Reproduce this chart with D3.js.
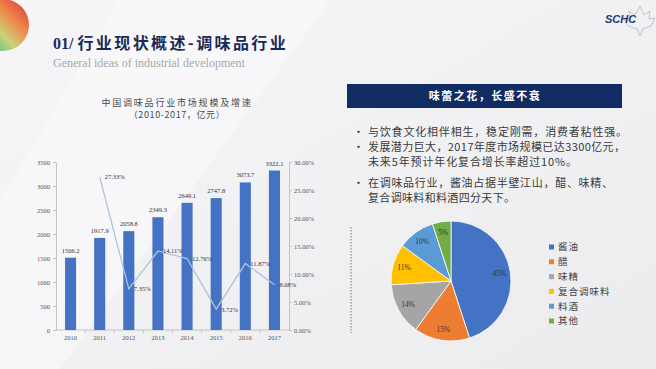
<!DOCTYPE html>
<html>
<head>
<meta charset="utf-8">
<script src="https://cdn.jsdelivr.net/npm/d3@7"></script>
<style>
  body { margin: 0; background: #fff; }
  svg { display: block; }
</style>
</head>
<body>
<svg width="656" height="369"></svg>
<script>
const years = ["2010", "2011", "2012", "2013", "2014", "2015", "2016", "2017"];
const marketSize = [1506.2, 1917.9, 2058.8, 2349.3, 2649.1, 2747.8, 3073.7, 3322.1];
const growthRate = [null, 27.33, 7.35, 14.11, 12.76, 3.72, 11.87, 8.08];
const sizeTicks = [0, 500, 1000, 1500, 2000, 2500, 3000, 3500];
const rateTicks = [0, 5, 10, 15, 20, 25, 30];

const shareNames = ["酱油", "醋", "味精", "复合调味料", "料酒", "其他"];
const shareValues = [45, 15, 14, 11, 10, 5];
const shareColors = ["#4472c4", "#ed7d31", "#a5a5a5", "#ffc000", "#5b9bd5", "#70ad47"];

const bullets = [
  ["与饮食文化相伴相生，稳定刚需，消费者粘性强。"],
  ["发展潜力巨大，2017年度市场规模已达3300亿元，", "未来5年预计年化复合增长率超过10%。"],
  ["在调味品行业，酱油占据半壁江山，醋、味精、", "复合调味料和料酒四分天下。"]
];
const bulletWidths = [[259], [257, 209], [245, 147]];

const cjk = "'Noto Sans CJK SC', 'Noto Sans', sans-serif";
const serif = "'Liberation Serif', 'DejaVu Serif', serif";

const svg = d3.select("svg");

// background
const defs = svg.append("defs");
const bg = defs.append("linearGradient").attr("id", "bg")
  .attr("x1", 0).attr("y1", 0).attr("x2", 1).attr("y2", 1);
bg.append("stop").attr("offset", 0).attr("stop-color", "#f6f6f8");
bg.append("stop").attr("offset", 0.5).attr("stop-color", "#f1f1f3");
bg.append("stop").attr("offset", 1).attr("stop-color", "#ececef");
svg.append("rect").attr("width", 656).attr("height", 369).attr("fill", "url(#bg)");
svg.append("path").attr("d", "M120,0 L330,0 L60,369 L0,369 L0,200 Z")
  .attr("fill", "#fafafb").attr("opacity", 0.6);

// colourful round logo
const ball = defs.append("linearGradient").attr("id", "ball")
  .attr("x1", 1).attr("y1", 0).attr("x2", 0).attr("y2", 1);
ball.append("stop").attr("offset", 0).attr("stop-color", "#d8313a");
ball.append("stop").attr("offset", 0.35).attr("stop-color", "#ef8a4a");
ball.append("stop").attr("offset", 0.6).attr("stop-color", "#c9d27a");
ball.append("stop").attr("offset", 1).attr("stop-color", "#1fae9a");
svg.append("circle").attr("cx", 3).attr("cy", 25).attr("r", 26).attr("fill", "url(#ball)");

// SCHC logo
svg.append("path")
  .attr("d", "M628,26 L624,18 L630,19 L629,11 L635,15 L640,6 L644,15 L650,11 L649,19 L655,18 L651,26 L643,29 L640,36 L637,29 Z")
  .attr("fill", "none").attr("stroke", "#b8b8be").attr("stroke-width", 0.8);
svg.append("text").attr("x", 605).attr("y", 23)
  .style("font-family", "'Liberation Sans', Arial, sans-serif").style("font-size", "11px")
  .style("font-weight", "bold").style("font-style", "italic").attr("fill", "#1d3a7a")
  .text("SCHC");

// titles
const title = svg.append("text").attr("x", 53).attr("y", 49)
  .style("font-family", cjk).style("font-size", "16px").style("font-weight", "bold")
  .style("letter-spacing", "2.4px").attr("fill", "#1b2a55");
title.append("tspan").style("font-family", serif).style("letter-spacing", "0px").text("01/ ");
title.append("tspan").text("行业现状概述-调味品行业");

svg.append("text").attr("x", 53).attr("y", 67)
  .style("font-family", serif).style("font-size", "12px").attr("fill", "#a8a8a8")
  .text("General ideas of industrial development");

svg.append("text").attr("x", 177).attr("y", 106).attr("text-anchor", "middle")
  .style("font-family", cjk).style("font-size", "9px").style("letter-spacing", "1.8px")
  .attr("fill", "#4a4a4a").text("中国调味品行业市场规模及增速");
svg.append("text").attr("x", 177).attr("y", 118).attr("text-anchor", "middle")
  .style("font-family", cjk).style("font-size", "9px").style("letter-spacing", "0.6px")
  .attr("fill", "#4a4a4a").text("（2010-2017，亿元）");

// bar + line chart
const plot = {left: 56, right: 289, top: 162, bottom: 330};
const x = d3.scaleBand().domain(years).range([plot.left, plot.right])
  .paddingInner(0.62).paddingOuter(0.31);
const y = d3.scaleLinear().domain([0, 3500]).range([plot.bottom, plot.top]);
const y2 = d3.scaleLinear().domain([0, 30]).range([plot.bottom, plot.top]);

const axisStyle = g => {
  g.selectAll("path, line").attr("stroke", "#c4c4c4");
  g.selectAll("text").style("font-family", serif).style("font-size", "6.5px").attr("fill", "#555");
};

svg.append("g").attr("transform", `translate(${plot.left},0)`)
  .call(d3.axisLeft(y).tickValues(sizeTicks).tickSize(3).tickSizeOuter(0).tickPadding(3)
    .tickFormat(d3.format("d")))
  .call(axisStyle);

svg.append("g").attr("transform", `translate(${plot.right},0)`)
  .call(d3.axisRight(y2).tickValues(rateTicks).tickSize(3).tickSizeOuter(0).tickPadding(2)
    .tickFormat(d => d.toFixed(2) + "%"))
  .call(axisStyle);

const xAxis = svg.append("g").attr("transform", `translate(0,${plot.bottom})`)
  .call(d3.axisBottom(x).tickSize(0).tickPadding(5))
  .call(axisStyle);
xAxis.select(".domain").attr("d", `M${plot.left},0H${plot.right}`);
xAxis.selectAll(".sep").data(years.slice(1)).join("line").attr("class", "sep")
  .attr("x1", d => x(d) - x.step() * x.paddingInner() / 2)
  .attr("x2", d => x(d) - x.step() * x.paddingInner() / 2)
  .attr("y1", 0).attr("y2", 3).attr("stroke", "#c4c4c4");

const sizeData = years.map((yr, i) => ({year: yr, value: marketSize[i]}));
svg.append("g").selectAll("rect").data(sizeData).join("rect")
  .attr("x", d => x(d.year)).attr("width", x.bandwidth())
  .attr("y", d => y(d.value)).attr("height", d => y(0) - y(d.value))
  .attr("fill", "#4472c4");
svg.append("g").selectAll("text").data(sizeData).join("text")
  .attr("x", d => x(d.year) + x.bandwidth() / 2).attr("y", d => y(d.value) - 5)
  .attr("text-anchor", "middle")
  .style("font-family", serif).style("font-size", "6.5px").attr("fill", "#333")
  .text(d => d.value.toFixed(1));

const rateData = years.map((yr, i) => ({year: yr, value: growthRate[i]}))
  .filter(d => d.value !== null);
const line = d3.line()
  .x(d => x(d.year) + x.bandwidth() / 2)
  .y(d => y2(d.value));
svg.append("path").datum(rateData)
  .attr("fill", "none").attr("stroke", "#aec3dc").attr("stroke-width", 1.3)
  .attr("d", line);
svg.append("g").selectAll("text").data(rateData).join("text")
  .attr("x", d => x(d.year) + x.bandwidth() / 2 + 5).attr("y", d => y2(d.value) + 2.5)
  .style("font-family", serif).style("font-size", "6.5px").attr("fill", "#333")
  .text(d => d.value.toFixed(2) + "%");

// right panel
svg.append("rect").attr("x", 347).attr("y", 84).attr("width", 275).attr("height", 24)
  .attr("fill", "#102c63");
svg.append("text").attr("x", 485).attr("y", 100).attr("text-anchor", "middle")
  .style("font-family", cjk).style("font-size", "11px").style("font-weight", "bold")
  .style("letter-spacing", "1.5px").attr("fill", "#fff").text("味蕾之花，长盛不衰");

const bulletY = [136, 151, 187];
bullets.forEach((lines, i) => {
  svg.append("text").attr("x", 353).attr("y", bulletY[i])
    .style("font-family", cjk).style("font-size", "11px").attr("fill", "#333").text("•");
  lines.forEach((t, j) => {
    svg.append("text").attr("x", 368).attr("y", bulletY[i] + j * 14.7)
      .attr("textLength", bulletWidths[i][j]).attr("lengthAdjust", "spacing")
      .style("font-family", cjk).style("font-size", "11px")
      .attr("fill", "#3a3a3a").text(t);
  });
});

// pie
svg.append("line").attr("x1", 351).attr("x2", 351).attr("y1", 227).attr("y2", 333)
  .attr("stroke", "#555").attr("stroke-width", 0.8).attr("stroke-dasharray", "1.5,1.5");

const shareData = shareNames.map((n, i) => ({name: n, value: shareValues[i], color: shareColors[i]}));
const pie = d3.pie().value(d => d.value).sort(null);
const arc = d3.arc().innerRadius(0).outerRadius(60);
const labelArc = d3.arc().innerRadius(49).outerRadius(49);
const pg = svg.append("g").attr("transform", "translate(451,281)");
pg.selectAll("path").data(pie(shareData)).join("path")
  .attr("d", arc).attr("fill", d => d.data.color)
  .attr("stroke", "#fff").attr("stroke-width", 0.8);
pg.selectAll("text").data(pie(shareData)).join("text")
  .attr("transform", d => `translate(${labelArc.centroid(d)})`)
  .attr("text-anchor", "middle").attr("dy", "0.35em")
  .style("font-family", serif).style("font-size", "7.5px").attr("fill", "#333")
  .text(d => d.data.value + "%");

const lg = svg.append("g").attr("transform", "translate(549,247)");
const item = lg.selectAll("g").data(shareData).join("g")
  .attr("transform", (d, i) => `translate(0,${i * 14.8})`);
item.append("rect").attr("x", 0).attr("y", -2.5).attr("width", 5).attr("height", 5)
  .attr("fill", d => d.color);
item.append("text").attr("x", 9).attr("dy", "0.35em")
  .style("font-family", cjk).style("font-size", "9.5px").style("letter-spacing", "1px")
  .attr("fill", "#444").text(d => d.name);
</script>
</body>
</html>
